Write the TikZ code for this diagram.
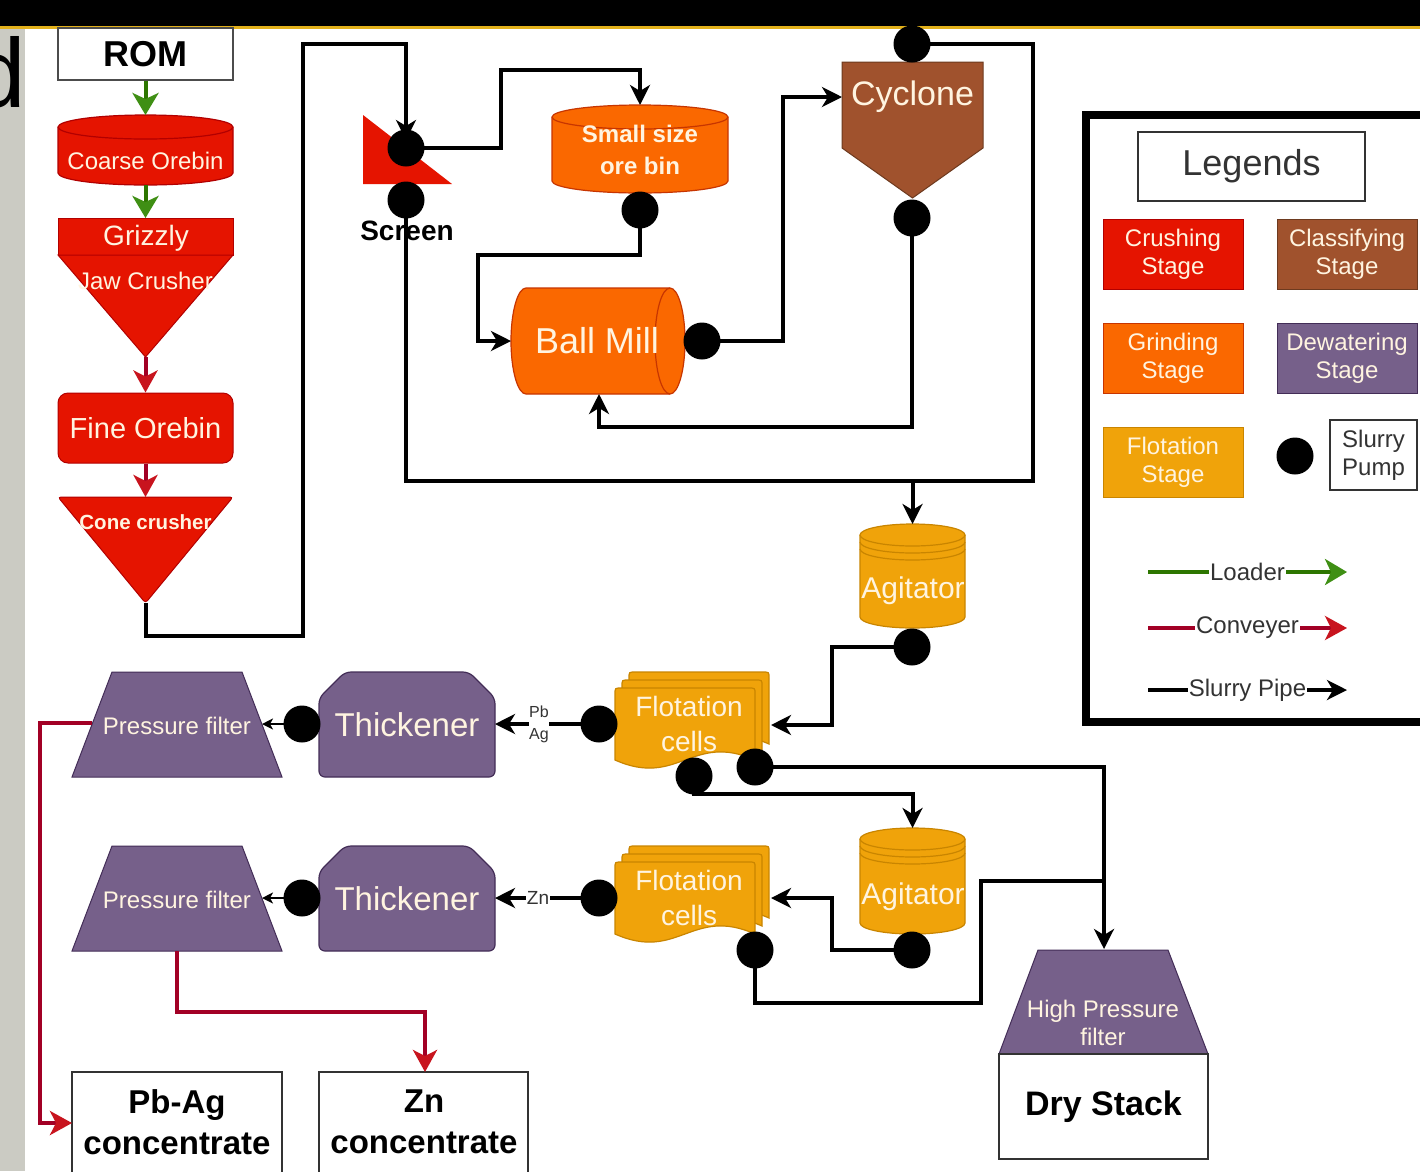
\documentclass[tikz,border=0pt]{standalone}
\usepackage{fontspec}
\setmainfont{Liberation Sans}
\usetikzlibrary{arrows.meta}
\pgfdeclarelayer{dots}
\pgfsetlayers{main,dots}
\definecolor{crush}{HTML}{E51400}
\definecolor{crushD}{HTML}{B20000}
\definecolor{grind}{HTML}{FA6800}
\definecolor{grindD}{HTML}{C73500}
\definecolor{classif}{HTML}{A0522D}
\definecolor{classifD}{HTML}{6D3A1F}
\definecolor{dewat}{HTML}{76608A}
\definecolor{dewatD}{HTML}{432D57}
\definecolor{flot}{HTML}{F0A30A}
\definecolor{flotD}{HTML}{C98500}
\definecolor{loadL}{HTML}{2D7600}
\definecolor{loadA}{HTML}{3F8F14}
\definecolor{convL}{HTML}{A20025}
\definecolor{convA}{HTML}{C8141E}
\definecolor{txtw}{HTML}{FFF4E0}
\definecolor{barY}{HTML}{E3B11B}
\definecolor{stripG}{HTML}{CBCBC3}
\definecolor{legtxt}{HTML}{333333}
\newcommand{\fsz}[2]{\fontsize{#1pt}{#2pt}\selectfont}
% vertical cylinder: x0,x1,y0,y1,ry,fill,draw
\newcommand{\vcylinder}[7]{%
  \filldraw[fill=#6,draw=#7,line width=1.2pt] (#1,#3+#5) -- (#1,#4-#5)
    arc[start angle=180,end angle=0,x radius={(#2-#1)/2},y radius=#5] -- (#2,#3+#5)
    arc[start angle=0,end angle=-180,x radius={(#2-#1)/2},y radius=#5] -- cycle;
  \draw[#7,line width=1.2pt] (#1,#3+#5) arc[start angle=180,end angle=0,x radius={(#2-#1)/2},y radius=#5];}
% one document sheet of a flotation stack: x,y (top-left)
\newcommand{\flotdoc}[2]{%
  \filldraw[fill=flot,draw=flotD,line width=1.2pt] (#1,#2+72) -- (#1,#2+6)
    .. controls (#1,#2) .. (#1+6,#2) -- (#1+134,#2) .. controls (#1+140,#2) .. (#1+140,#2+6)
    -- (#1+140,#2+72) .. controls (#1+77,#2+44) and (#1+63,#2+100) .. (#1,#2+72) -- cycle;}

\begin{document}
\begin{tikzpicture}[x=1pt,y=-1pt,
  pump/.style={circle, fill=black, inner sep=0pt, minimum size=37pt},
  pipe/.style={line width=4pt, draw=black},
  parr/.style={pipe, -{Stealth[length=20pt,width=20pt,inset=6pt]}},
  sarr/.style={line width=2.5pt, draw=black, -{Stealth[length=11pt,width=11pt,inset=3pt]}},
  load/.style={line width=4pt, draw=loadL, -{Stealth[length=22pt,width=26pt,inset=6pt,color=loadA]}},
  conv/.style={line width=4pt, draw=convL, -{Stealth[length=22pt,width=24pt,inset=6pt,color=convA]}},
  wt/.style={text=txtw, align=center, inner sep=0pt},
  lgbox/.style={minimum width=140pt, minimum height=70pt, text=txtw, align=center,
                font=\fsz{24}{28}, inner sep=0pt, line width=1pt},
  whitebox/.style={draw=legtxt, line width=1.3pt, fill=white, inner sep=0pt},
  leglbl/.style={midway, fill=white, inner sep=1pt, font=\fsz{24}{24}, text=legtxt}
]
\useasboundingbox (0,0) rectangle (1420,1171);
% ---------- background ----------
\fill[white] (0,0) rectangle (1420,1171);
\fill[stripG] (0,29) rectangle (25,1171);
\node[anchor=base west, inner sep=0pt, font=\fsz{98}{98}] (dchar) at (-29,107) {d};
\fill[black] (0,0) rectangle (1420,26);
\fill[barY] (0,26) rectangle (1420,28.5);

% ---------- crushing column ----------
\node[whitebox, draw=gray!60!black, minimum width=175pt, minimum height=52pt,
      font=\bfseries\fsz{36}{36}] (rom) at (145.5,54) {ROM};
\vcylinder{58}{233}{115}{185}{12}{crush}{crushD}
\node[wt, font=\fsz{24}{28}] (coarse) at (145.5,161) {Coarse Orebin};
\coordinate (coarseT) at (145.5,115);
\coordinate (coarseB) at (145.5,185);
\filldraw[fill=crush, draw=crushD, line width=1pt] (58,218) rectangle (233,255);
\node[wt, font=\fsz{28}{30}] (grizzly) at (146,238) {Grizzly};
\coordinate (grizT) at (145.5,218);
\filldraw[fill=crush, draw=crushD, line width=1pt] (58,255) -- (233,255) -- (145.5,357) -- cycle;
\node[wt, font=\fsz{24}{26}] (jaw) at (145.5,281) {Jaw Crusher};
\coordinate (jawB) at (145.5,357);
\node[draw=crushD, fill=crush, line width=1pt, rounded corners=10pt, minimum width=175pt,
      minimum height=70pt, text=txtw, inner sep=0pt, font=\fsz{29}{30}] (fine) at (145.5,428) {Fine Orebin};
\filldraw[fill=crush, draw=crushD, line width=1pt, rounded corners=3pt] (58,497) -- (233,497) -- (145.5,603) -- cycle;
\node[wt, font=\bfseries\fsz{20.5}{22}] (cone) at (145.5,522) {Cone crusher};
\coordinate (coneT) at (145.5,497);
\coordinate (coneB) at (145.5,603);

% ---------- screen ----------
\fill[crush] (363,115) -- (363,184) -- (452,184) -- cycle;
\node[font=\bfseries\fsz{28}{30}, inner sep=0pt] (screenlbl) at (407,231) {Screen};

% ---------- grinding / classifying ----------
\vcylinder{552}{728}{105}{193}{12}{grind}{grindD}
\node[wt, font=\bfseries\fsz{24}{32}] (bin) at (640,150) {Small size\\ore bin};
\coordinate (binT) at (640,105);
\filldraw[fill=grind, draw=grindD, line width=1.2pt] (526,288) -- (670,288)
   arc[start angle=-90,end angle=90,x radius=15,y radius=53] -- (526,394)
   arc[start angle=90,end angle=270,x radius=15,y radius=53] -- cycle;
\draw[grindD, line width=1.2pt] (670,288) arc[start angle=-90,end angle=-270,x radius=15,y radius=53];
\node[wt, font=\fsz{36}{36}] (ballmill) at (597,341) {Ball Mill};
\coordinate (bmW) at (511,341);
\coordinate (bmS) at (599,394);
\filldraw[fill=classif, draw=classifD, line width=1pt] (842,62) -- (983,62) -- (983,148) -- (912.5,198) -- (842,148) -- cycle;
\node[wt, font=\fsz{34}{34}] (cyclone) at (912.5,97) {Cyclone};
\coordinate (cyW) at (842,97);

% ---------- agitators ----------
\vcylinder{860}{965}{524}{628}{11}{flot}{flotD}
\draw[flotD, line width=1.2pt] (860,542) arc[start angle=180,end angle=0,x radius=52.5,y radius=11];
\draw[flotD, line width=1.2pt] (860,549) arc[start angle=180,end angle=0,x radius=52.5,y radius=11];
\node[wt, font=\fsz{30}{30}] (agit1) at (913,591) {Agitator};
\coordinate (ag1T) at (912.5,524);
\vcylinder{860}{965}{828}{934}{11}{flot}{flotD}
\draw[flotD, line width=1.2pt] (860,846) arc[start angle=180,end angle=0,x radius=52.5,y radius=11];
\draw[flotD, line width=1.2pt] (860,853) arc[start angle=180,end angle=0,x radius=52.5,y radius=11];
\node[wt, font=\fsz{30}{30}] (agit2) at (913,897) {Agitator};
\coordinate (ag2T) at (912.5,828);

% ---------- flotation cells ----------
\flotdoc{629}{672}\flotdoc{622}{680}\flotdoc{615}{688}
\node[wt, font=\fsz{28}{35}] (flot1) at (689,724) {Flotation\\cells};
\coordinate (f1E) at (771,725);
\flotdoc{629}{846}\flotdoc{622}{854}\flotdoc{615}{862}
\node[wt, font=\fsz{28}{35}] (flot2) at (689,898) {Flotation\\cells};
\coordinate (f2E) at (771,898);

% ---------- dewatering ----------
\filldraw[fill=dewat, draw=dewatD, line width=1.2pt, rounded corners=6pt]
   (319,698) -- (345,672) -- (469,672) -- (495,698) -- (495,777) -- (319,777) -- cycle;
\node[wt, font=\fsz{33}{33}] (thick1) at (407,725) {Thickener};
\coordinate (th1E) at (495,724);
\filldraw[fill=dewat, draw=dewatD, line width=1.2pt, rounded corners=6pt]
   (319,872) -- (345,846) -- (469,846) -- (495,872) -- (495,951) -- (319,951) -- cycle;
\node[wt, font=\fsz{33}{33}] (thick2) at (407,899) {Thickener};
\coordinate (th2E) at (495,898);
\filldraw[fill=dewat, draw=dewatD, line width=1pt] (112,672) -- (242,672) -- (282,777) -- (72,777) -- cycle;
\node[wt, font=\fsz{24}{24}] (pfilt1) at (177,726) {Pressure filter};
\coordinate (pf1E) at (262,724);
\coordinate (pf1W) at (92,723);
\filldraw[fill=dewat, draw=dewatD, line width=1pt] (112,846) -- (242,846) -- (282,951) -- (72,951) -- cycle;
\node[wt, font=\fsz{24}{24}] (pfilt2) at (177,900) {Pressure filter};
\coordinate (pf2E) at (262,898);
\coordinate (pf2S) at (177,951);
\filldraw[fill=dewat, draw=dewatD, line width=1pt] (1038,950) -- (1168,950) -- (1208,1054) -- (999,1054) -- cycle;
\node[wt, font=\fsz{24}{28}] (hpf) at (1103,1023) {High Pressure\\filter};
\coordinate (hpT) at (1104,949);

% ---------- products ----------
\node[whitebox, minimum width=209pt, minimum height=105pt, font=\bfseries\fsz{34}{34}] (dry) at (1103.5,1106.5) {Dry Stack};
\draw[legtxt, line width=1.3pt, fill=white] (72,1072) rectangle (282,1178);
\node[align=center, inner sep=0pt, font=\bfseries\fsz{33}{41}] (pbag) at (177,1122) {Pb-Ag\\concentrate};
\coordinate (pbW) at (72,1123);
\draw[legtxt, line width=1.3pt, fill=white] (319,1072) rectangle (528,1178);
\node[align=center, inner sep=0pt, font=\bfseries\fsz{33}{41}] (znc) at (424,1122) {Zn\\concentrate};
\coordinate (znN) at (425,1072);

% ---------- slurry pumps (top layer) ----------
\begin{pgfonlayer}{dots}
\node[pump] (pS1) at (406,148) {};
\node[pump] (pS2) at (406,200) {};
\node[pump] (pBin) at (640,210) {};
\node[pump] (pBM) at (702,341) {};
\node[pump] (pCyT) at (912,44) {};
\node[pump] (pCyB) at (912,218) {};
\node[pump] (pAg1) at (912,647) {};
\node[pump] (pF1L) at (599,724) {};
\node[pump] (pF1a) at (694,776) {};
\node[pump] (pF1b) at (755,767) {};
\node[pump] (pTh1) at (302,724) {};
\node[pump] (pTh2) at (302,898) {};
\node[pump] (pF2L) at (599,898) {};
\node[pump] (pF2b) at (755,950) {};
\node[pump] (pAg2) at (912,950) {};
\node[pump] (pLeg) at (1295,456) {};
\end{pgfonlayer}

% ---------- loader / conveyor ----------
\draw[load] (rom.south) -- (coarseT);
\draw[load] (coarseB) -- (grizT);
\draw[conv] (jawB) -- (fine.north);
\draw[conv] (fine.south) -- (coneT);
\draw[conv] (pf1W) -- (40,723) -- (40,1123) -- (pbW);
\draw[conv] (pf2S) -- (177,1012) -- (425,1012) -- (znN);

% ---------- slurry pipes ----------
\draw[parr, shorten >=8pt] (coneB) -- (145.5,636) -- (303,636) -- (303,44) -- (406,44) -- (pS1.center);
\draw[parr] (pS1.center) -- (501,148) -- (501,70) -- (640,70) -- (binT);
\draw[parr] (pBin.center) -- (640,255) -- (478,255) -- (478,341) -- (bmW);
\draw[parr] (pBM.center) -- (783,341) -- (783,97) -- (cyW);
\draw[parr] (pCyB.center) -- (912,427) -- (599,427) -- (bmS);
\draw[pipe] (pS2.center) -- (406,481) -- (1033,481) -- (1033,44) -- (pCyT.center);
\coordinate (j1) at (912.5,481);
\draw[parr] (j1) -- (ag1T);
\draw[parr] (pAg1.center) -- (832,647) -- (832,725) -- (f1E);
\draw[parr] (pF1L.center) -- (th1E);
\node[fill=white, inner sep=0.5pt, align=center, font=\fsz{16}{22}, text=legtxt] (pbaglbl) at (539,724) {Pb\\Ag};
\draw[parr] (pF1a.center) -- (694,794) -- (912.5,794) -- (ag2T);
\draw[parr] (pF1b.center) -- (1104,767) -- (hpT);
\draw[parr] (pAg2.center) -- (832,950) -- (832,898) -- (f2E);
\draw[pipe] (pF2b.center) -- (755,1003) -- (981,1003) -- (981,881) -- (1104,881);
\draw[parr] (pF2L.center) -- (th2E);
\node[fill=white, inner sep=0.5pt, font=\fsz{19}{20}, text=legtxt] (znlbl) at (538,898) {Zn};
\draw[sarr] (pTh1.center) -- (pf1E);
\draw[sarr] (pTh2.center) -- (pf2E);

% ---------- legend ----------
\draw[line width=8pt] (1086,115) rectangle (1460,722);
\node[whitebox, minimum width=227pt, minimum height=69pt, font=\fsz{36}{36}, text=legtxt] (legT) at (1251.5,166.5) {Legends};
\node[lgbox, fill=crush, draw=crushD] (lgCr) at (1173,254) {Crushing\\Stage};
\node[lgbox, fill=classif, draw=classifD] (lgCl) at (1347,254) {Classifying\\Stage};
\node[lgbox, fill=grind, draw=grindD] (lgGr) at (1173,358) {Grinding\\Stage};
\node[lgbox, fill=dewat, draw=dewatD] (lgDw) at (1347,358) {Dewatering\\Stage};
\node[lgbox, fill=flot, draw=flotD] (lgFl) at (1173,462.5) {Flotation\\Stage};
\node[whitebox, minimum width=87pt, minimum height=70pt, align=center, font=\fsz{24}{28}, text=legtxt] (pumpbox) at (1373.5,455) {Slurry\\Pump};
\coordinate (lgA1) at (1148,572); \coordinate (lgA2) at (1347,572);
\coordinate (lgB1) at (1148,628); \coordinate (lgB2) at (1347,628);
\coordinate (lgC1) at (1148,690); \coordinate (lgC2) at (1347,690);
\draw[load, line width=3.5pt] (lgA1) -- (lgA2) node[leglbl] (lgLoad) {Loader};
\draw[conv, line width=3.5pt] (lgB1) -- (lgB2) node[leglbl] (lgConv) {Conveyer};
\draw[parr, line width=3.5pt] (lgC1) -- (lgC2) node[leglbl] (lgPipe) {Slurry Pipe};
\end{tikzpicture}
\end{document}
